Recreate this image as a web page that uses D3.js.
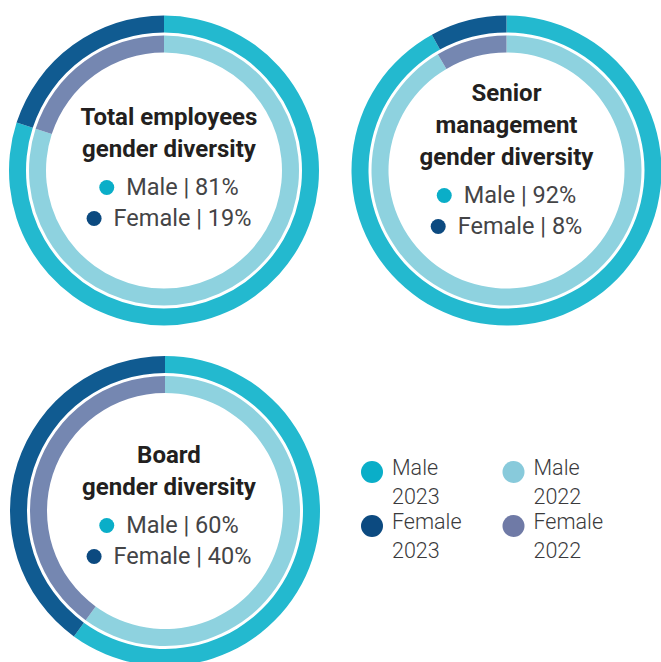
<!DOCTYPE html>
<html>
<head>
<meta charset="utf-8">
<style>
  body { margin: 0; background: #fff; }
  svg { display: block; font-family: Roboto, "Noto Sans", sans-serif; }
</style>
</head>
<body>
<script src="https://cdn.jsdelivr.net/npm/d3@7"></script>
<script>

// one donut per group: outer ring = 2023, inner ring = 2022
var titles = [["Total employees", "gender diversity"],
              ["Senior", "management", "gender diversity"],
              ["Board", "gender diversity"]];
var male2023 = [80, 92, 60];
var female2023 = [20, 8, 40];
var male2022 = [80, 91.5, 60];
var female2022 = [20, 8.5, 40];
// percentages printed in the middle of each donut
var maleLabels = ["81%", "92%", "60%"];
var femaleLabels = ["19%", "8%", "40%"];

var legendLabels = [["Male", "2023"], ["Male", "2022"], ["Female", "2023"], ["Female", "2022"]];

var W = 661, H = 662;
var svg = d3.select("body").append("svg")
    .attr("width", W).attr("height", H);

var ringColors = {
  outer: ["#23b9cf", "#105b91"],
  inner: ["#8ed2df", "#7587b1"]
};
var dotColors = ["#0aaec8", "#88cadb", "#0c4a80", "#6f7aa6"];

// donut placement (centre of rings, centre of the text block, first title baseline)
var pos = [
  {cx: 164, cy: 170.5, tx: 169, ty: 125},
  {cx: 506.5, cy: 170.5, tx: 506.5, ty: 101},
  {cx: 165, cy: 511, tx: 169, ty: 463}
];

var pie = d3.pie().sort(null).value(function(d) { return d; });
var outerArc = d3.arc().innerRadius(138).outerRadius(155);
var innerArc = d3.arc().innerRadius(118).outerRadius(135);

titles.forEach(function(t, i) {
  var p = pos[i];
  var g = svg.append("g").attr("transform", "translate(" + p.cx + "," + p.cy + ")");

  g.selectAll(".outer").data(pie([male2023[i], female2023[i]]))
    .enter().append("path")
    .attr("class", "outer")
    .attr("d", outerArc)
    .style("fill", function(d, j) { return ringColors.outer[j]; });

  g.selectAll(".inner").data(pie([male2022[i], female2022[i]]))
    .enter().append("path")
    .attr("class", "inner")
    .attr("d", innerArc)
    .style("fill", function(d, j) { return ringColors.inner[j]; });

  // title lines
  var tg = svg.append("g");
  t.forEach(function(line, k) {
    tg.append("text")
      .attr("x", p.tx).attr("y", p.ty + k * 32)
      .attr("text-anchor", "middle")
      .style("font-size", "24px").style("font-weight", "bold")
      .style("fill", "#231f20")
      .text(line);
  });

  // male / female rows with a dot in front, centred as a group
  var base = p.ty + (t.length - 1) * 32 + 38;
  var rows = [["Male | " + maleLabels[i], dotColors[0]], ["Female | " + femaleLabels[i], dotColors[2]]];
  rows.forEach(function(r, k) {
    var y = base + k * 31;
    var txt = tg.append("text")
      .attr("y", y)
      .style("font-size", "23.5px")
      .style("fill", "#444446")
      .text(r[0]);
    var w = txt.node().getComputedTextLength();
    var total = 19.5 + w + 7.5;
    var left = p.tx - total / 2;
    txt.attr("x", left + 27);
    tg.append("circle")
      .attr("cx", left + 7.5).attr("cy", y - 7.5)
      .attr("r", 7.5)
      .style("fill", r[1]);
  });
});

// legend bottom right, 2 columns
var legend = svg.append("g");
var colX = [372, 513.5], rowY = [472, 526];
legendLabels.forEach(function(l, i) {
  var x = colX[i % 2], y = rowY[Math.floor(i / 2)];
  legend.append("circle")
    .attr("cx", x).attr("cy", y).attr("r", 11)
    .style("fill", dotColors[i]);
  l.forEach(function(s, k) {
    legend.append("text")
      .attr("x", x + 20).attr("y", y + 2.5 + k * 29)
      .style("font-size", "21.5px").style("font-weight", 300)
      .style("fill", "#3a3a3c")
      .text(s);
  });
});

</script>
</body>
</html>
